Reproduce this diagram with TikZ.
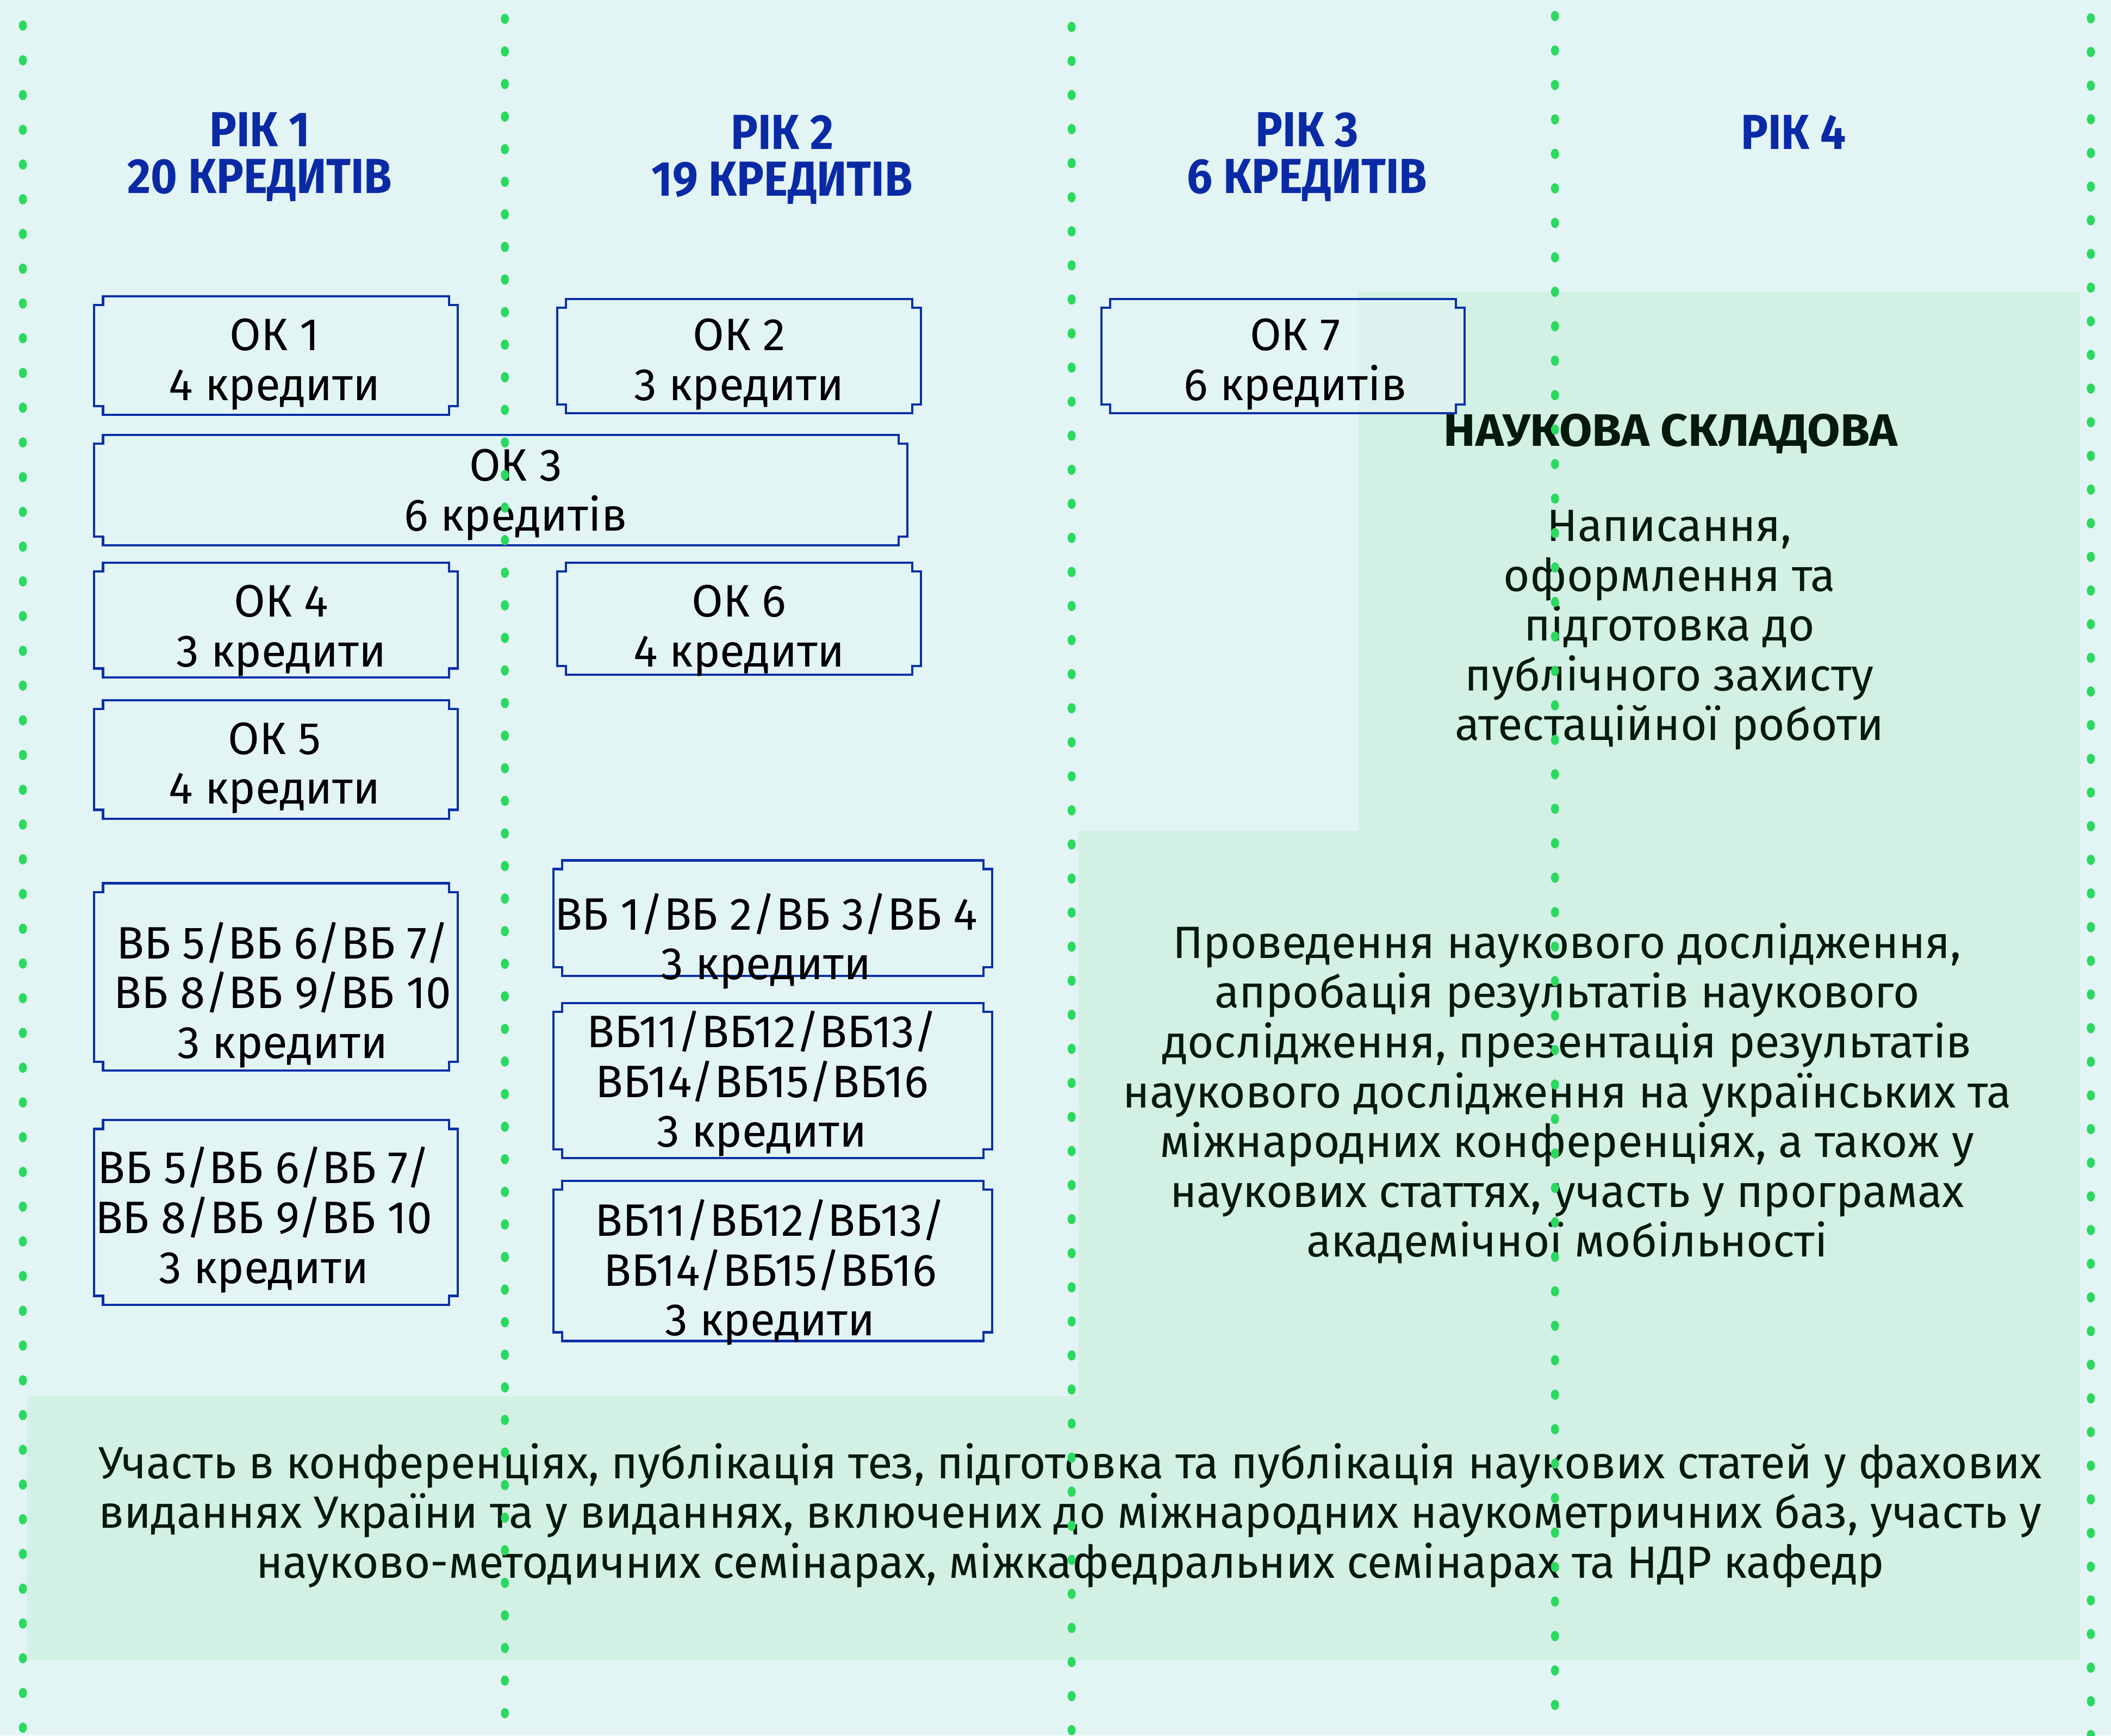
\documentclass[tikz,border=0pt]{standalone}
\usepackage{fontspec}
\setmainfont{Fira Sans}
\newfontfamily\headfont{Fira Sans}[FakeStretch=0.92]
\newfontfamily\titlefont{Fira Sans}[FakeStretch=1.05]

\definecolor{bgcyan}{RGB}{227,244,244}
\definecolor{panelgreen}{RGB}{210,240,228}
\definecolor{dotgreen}{RGB}{42,217,95}
\definecolor{headblue}{RGB}{10,42,165}
\definecolor{frameblue}{RGB}{11,49,166}
\definecolor{darktext}{RGB}{6,26,12}

\begin{document}
\begin{tikzpicture}[x=0.025cm,y=-0.025cm,
    frm/.style={draw=frameblue,line width=1.2pt,fill=bgcyan,fill opacity=0.7,draw opacity=1},
    boxtext/.style={align=center,inner sep=0pt,font=\fontsize{24}{26.3}\selectfont},
    yeartext/.style={align=center,inner sep=0pt,text=headblue,font=\headfont\bfseries\fontsize{26}{24.8}\selectfont},
    paneltext/.style={align=center,inner sep=0pt,text=darktext,font=\fontsize{23.9}{26.3}\selectfont}]
  \useasboundingbox (0,0) rectangle (1568,1289);
  \fill[bgcyan] (0,0) rectangle (1568,1289);

  % green panels
  \fill[panelgreen] (1009,217) rectangle (1545,617);
  \fill[panelgreen] (801,617) rectangle (1545,1037);
  \fill[panelgreen] (20,1037) rectangle (1545,1233);

  % headers
  \node[yeartext] (y1) at (193,116.5) {РІК 1\\20 КРЕДИТІВ};
  \node[yeartext] (y2) at (581,118.5) {РІК 2\\19 КРЕДИТІВ};
  \node[yeartext] (y3) at (971,116.5) {РІК 3\\6 КРЕДИТІВ};
  \node[yeartext] (y4) at (1332,98) {РІК 4};

  % frames of the course boxes
  \foreach \xa/\ya/\xb/\yb in {70/220/340/308, 414/222/684/307, 70/323/674/405,
      70/418/340/503, 414/418/684/501, 70/520/340/608, 818/222/1088/307,
      70/656/340/795, 70/832/340/969, 411/639/737/725, 411/745/737/860, 411/877/737/996}
    \draw[frm] (\xa+6.5,\ya) -- (\xb-6.5,\ya) -- (\xb-6.5,\ya+6.5) -- (\xb,\ya+6.5)
      -- (\xb,\yb-6.5) -- (\xb-6.5,\yb-6.5) -- (\xb-6.5,\yb) -- (\xa+6.5,\yb)
      -- (\xa+6.5,\yb-6.5) -- (\xa,\yb-6.5) -- (\xa,\ya+6.5) -- (\xa+6.5,\ya+6.5) -- cycle;

  \node[boxtext] (ok1) at (204,270.5) {ОК 1\\4 кредити};
  \node[boxtext] (ok2) at (549,270.5) {ОК 2\\3 кредити};
  \node[boxtext] (ok3) at (383,367.5) {ОК 3\\6 кредитів};
  \node[boxtext] (ok4) at (209,468.5) {ОК 4\\3 кредити};
  \node[boxtext] (ok6) at (549,468.5) {ОК 6\\4 кредити};
  \node[boxtext] (ok5) at (204,570.5) {ОК 5\\4 кредити};
  \node[boxtext] (ok7) at (962,270.5) {ОК 7\\6 кредитів};
  \node[boxtext] (vb5a) at (210,739) {ВБ 5/ВБ 6/ВБ 7/\\ВБ 8/ВБ 9/ВБ 10\\3 кредити};
  \node[boxtext] (vb5b) at (196,906) {ВБ 5/ВБ 6/ВБ 7/\\ВБ 8/ВБ 9/ВБ 10\\3 кредити};
  \node[boxtext] (vb1) at (569,699) {ВБ 1/ВБ 2/ВБ 3/ВБ 4\\3 кредити};
  \node[boxtext] (vb11a) at (566,805) {ВБ11/ВБ12/ВБ13/\\ВБ14/ВБ15/ВБ16\\3 кредити};
  \node[boxtext] (vb11b) at (572,945) {ВБ11/ВБ12/ВБ13/\\ВБ14/ВБ15/ВБ16\\3 кредити};

  % research part
  \node[paneltext,font=\titlefont\bfseries\fontsize{24}{26}\selectfont] (sci) at (1241,322) {НАУКОВА СКЛАДОВА};
  \node[paneltext] (thesis) at (1240,468) {Написання,\\оформлення та\\підготовка до\\публічного захисту\\атестаційної роботи};
  \node[paneltext] (research) at (1164,812) {Проведення наукового дослідження,\\апробація результатів наукового\\дослідження, презентація результатів\\наукового дослідження на українських та\\міжнародних конференціях, а також у\\наукових статтях, участь у програмах\\академічної мобільності};
  \node[paneltext] (confs) at (795,1125.5) {Участь в конференціях, публікація тез, підготовка та публікація наукових статей у фахових\\виданнях України та у виданнях, включених до міжнародних наукометричних баз, участь у\\науково-методичних семінарах, міжкафедральних семінарах та НДР кафедр};

  % dotted year separators
  \foreach \x/\s/\t in {17/19/44.8, 375/14/38.2, 796/20/45.3, 1155/11.9/37.5, 1553/13.6/38.6}
    \foreach \y in {\s,\t,...,1289}
      \fill[dotgreen] (\x,\y) ellipse [x radius=3, y radius=3.8];
\end{tikzpicture}
\end{document}
